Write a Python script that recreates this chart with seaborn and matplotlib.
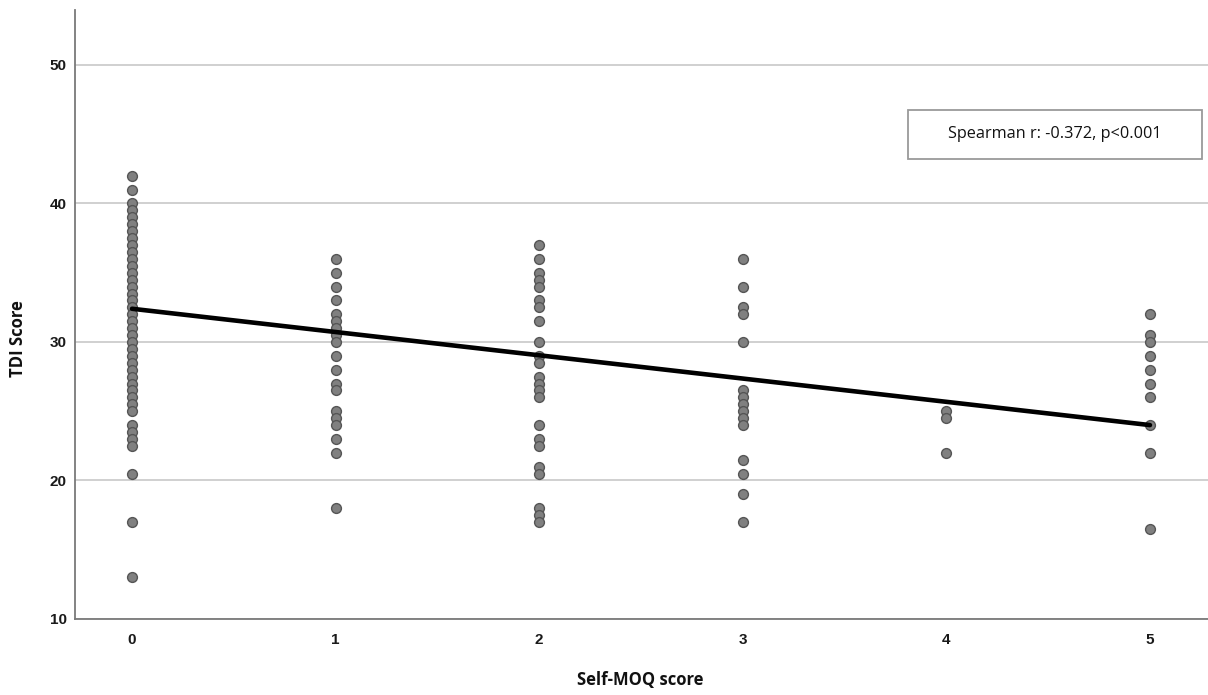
import matplotlib
matplotlib.use("Agg")
import matplotlib.pyplot as plt
from matplotlib.patches import Rectangle
import seaborn as sns
import pandas as pd

# ---- data ----
moq_levels = [0, 1, 2, 3, 4, 5]
tdi_moq0 = [42, 41, 40, 39.5, 39, 38.5, 38, 37.5, 37, 36.5, 36, 35.5, 35, 34.5, 34,
            33.5, 33, 32.5, 32, 31.5, 31, 30.5, 30, 29.5, 29, 28.5, 28, 27.5, 27,
            26.5, 26, 25.5, 25, 24, 23.5, 23, 22.5, 20.5, 17, 13]
tdi_moq1 = [36, 35, 34, 33, 32, 31.5, 31, 30.5, 30, 29, 28, 27, 26.5, 25, 24.5, 24,
            23, 22, 18]
tdi_moq2 = [37, 36, 35, 34.5, 34, 33, 32.5, 31.5, 30, 29, 28.5, 27.5, 27, 26.5, 26,
            24, 23, 22.5, 21, 20.5, 18, 17.5, 17]
tdi_moq3 = [36, 34, 32.5, 32, 30, 26.5, 26, 25.5, 25, 24.5, 24, 21.5, 20.5, 19, 17]
tdi_moq4 = [25, 24.5, 22]
tdi_moq5 = [32, 30.5, 30, 29, 28, 27, 26, 24, 22, 16.5]

fit_x = [0, 5]
fit_y = [32.4, 24.0]

y_ticks = [10, 20, 30, 40, 50]
x_label = "Self-MOQ score"
y_label = "TDI Score"
annotation = "Spearman r: -0.372, p<0.001"

groups = [tdi_moq0, tdi_moq1, tdi_moq2, tdi_moq3, tdi_moq4, tdi_moq5]
rows = []
for lvl, vals in zip(moq_levels, groups):
    for v in vals:
        rows.append({"moq": lvl, "tdi": v})
df = pd.DataFrame(rows)
fit_df = pd.DataFrame({"moq": fit_x, "tdi": fit_y})

sns.set_theme(style="white")
plt.rcParams["font.family"] = ["Liberation Sans", "DejaVu Sans"]

fig = plt.figure(figsize=(12.08, 6.95), dpi=100)
ax = fig.add_axes([75 / 1208, 76 / 695, 1133 / 1208, 609 / 695])

ax.set_xlim(-0.28, 5.285)
ax.set_ylim(10, 53.97)
ax.set_yticks(y_ticks)
ax.set_xticks(moq_levels)
ax.yaxis.grid(True, color="#c4c4c4", linewidth=1.1)
ax.xaxis.grid(False)
ax.set_axisbelow(True)

sns.scatterplot(data=df, x="moq", y="tdi", ax=ax, s=50, color="#808080",
                edgecolor="#555555", linewidth=1.0, zorder=3, legend=False)
sns.lineplot(data=fit_df, x="moq", y="tdi", ax=ax, color="black",
             linewidth=3.3, zorder=4, legend=False)

for s in ["top", "right"]:
    ax.spines[s].set_visible(False)
for s in ["left", "bottom"]:
    ax.spines[s].set_color("#7a7a7a")
    ax.spines[s].set_linewidth(1.3)

ax.tick_params(axis="both", length=0, labelsize=11, colors="#1a1a1a")
ax.tick_params(axis="y", pad=6)
ax.tick_params(axis="x", pad=10)
for lab in ax.get_xticklabels() + ax.get_yticklabels():
    lab.set_fontweight("bold")

ax.set_xlabel(x_label, fontsize=12, fontweight="bold", family=["Open Sans", "DejaVu Sans"],
              color="#111111")
ax.set_ylabel(y_label, fontsize=12, fontweight="bold", family=["Open Sans", "DejaVu Sans"],
              color="#111111")
ax.xaxis.set_label_coords(0.499, -0.085)
ax.yaxis.set_label_coords(-0.042, 0.46)

# annotation box
bx0, bx1 = (908 - 132) / 203.6, (1202 - 132) / 203.6
by1, by0 = 10 + (619 - 110) / 13.85, 10 + (619 - 159) / 13.85
ax.add_patch(Rectangle((bx0, by0), bx1 - bx0, by1 - by0, facecolor="white",
                       edgecolor="#9a9a9a", linewidth=1.3, zorder=5))
ax.text((bx0 + bx1) / 2, (by0 + by1) / 2, annotation, ha="center", va="center",
        fontsize=11.7, family=["Open Sans", "DejaVu Sans"], color="#111111", zorder=6)

fig.savefig("out.png", dpi=100)
